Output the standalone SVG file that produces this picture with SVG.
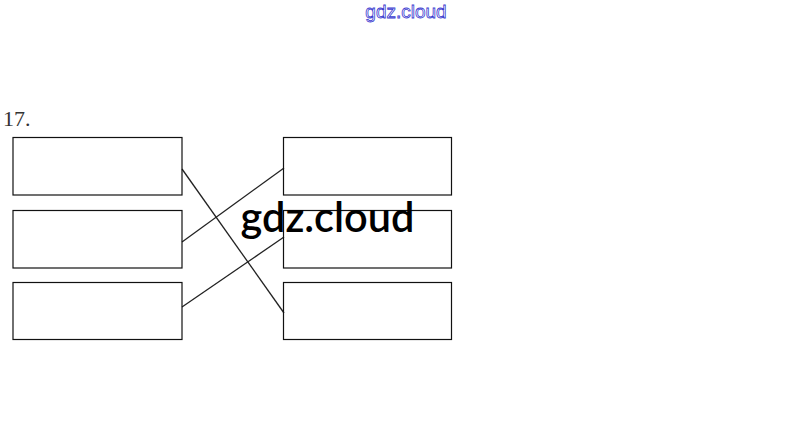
<svg xmlns="http://www.w3.org/2000/svg" width="811" height="444" viewBox="0 0 811 444">
<style>
.box{fill:none;stroke:#111;stroke-width:1.2}
.ln{stroke:#222;stroke-width:1.3;fill:none}
.num{font-family:"Liberation Serif",serif;font-size:22px;fill:#333}
.wm{font-family:"Liberation Sans",sans-serif;font-size:19px;fill:#fff;stroke:#3a3ad0;stroke-width:0.8}
.big{font-family:Lato,sans-serif;font-size:41.5px;font-weight:600;fill:#000}
</style>
<rect width="811" height="444" fill="#fff"/>
<text class="wm" x="406" y="18" text-anchor="middle">gdz.cloud</text>
<text class="num" x="3" y="126">17.</text>
<g id="connectors">
<line class="ln" x1="182" y1="169" x2="284" y2="313"/>
<line class="ln" x1="182" y1="242" x2="284" y2="168" stroke="#777"/>
<line class="ln" x1="182" y1="307" x2="284" y2="237"/>
</g>
<g id="L1"><rect class="box" x="13" y="137.5" width="169" height="57.5"/></g>
<g id="L2"><rect class="box" x="13" y="210.5" width="169" height="57.5"/></g>
<g id="L3"><rect class="box" x="13" y="282.5" width="169" height="57"/></g>
<g id="R1"><rect class="box" x="283.5" y="137.5" width="168" height="57.5"/></g>
<g id="R2"><rect class="box" x="283.5" y="210.5" width="168" height="57.5"/></g>
<g id="R3"><rect class="box" x="283.5" y="282.5" width="168" height="57"/></g>
<text class="big" x="327.5" y="232" text-anchor="middle">gdz.cloud</text>
</svg>
